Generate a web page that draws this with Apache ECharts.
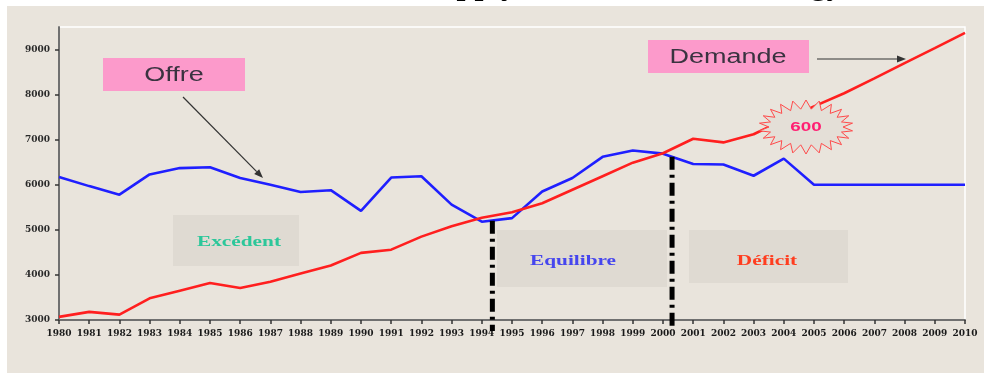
<!DOCTYPE html>
<html>
<head>
<meta charset="utf-8">
<script src="https://cdn.jsdelivr.net/npm/echarts@6/dist/echarts.min.js"></script>
<style>
  html, body { margin: 0; padding: 0; background: #ffffff; }
  #chart { width: 984px; height: 376px; }
</style>
</head>
<body>
<div id="chart"></div>
<script>
// Years on the horizontal axis
const years = [1980, 1981, 1982, 1983, 1984, 1985, 1986, 1987, 1988, 1989,
               1990, 1991, 1992, 1993, 1994, 1995, 1996, 1997, 1998, 1999,
               2000, 2001, 2002, 2003, 2004, 2005, 2006, 2007, 2008, 2009, 2010];

// Supply (Offre)
const offre = [6170, 5970, 5780, 6230, 6370, 6390, 6150, 6000, 5840, 5880,
               5420, 6160, 6190, 5560, 5180, 5260, 5850, 6150, 6620, 6760,
               6690, 6460, 6450, 6200, 6580, 6000, 6000, 6000, 6000, 6000, 6000];

// Demand (Demande)
const demande = [3070, 3180, 3120, 3480, 3650, 3820, 3710, 3850, 4030, 4210,
                 4490, 4560, 4850, 5080, 5270, 5390, 5590, 5890, 6190, 6490,
                 6700, 7020, 6940, 7120, 7440, 7740, 8030, 8360, 8700, 9030, 9370];

// Vertical axis ticks
const yTicks = [3000, 4000, 5000, 6000, 7000, 8000, 9000];

// Phase boundaries (year position, value where the divider starts)
const phaseBreaks = [1994.35, 2000.3];
const phaseTops = [5200, 6620];

const BG = '#e9e4dc';
const BOX = '#dfdad2';
const serif = '"Liberation Serif", "Times New Roman", serif';
const sans = '"Liberation Sans", Arial, sans-serif';

const chart = echarts.init(document.getElementById('chart'), null, { renderer: 'canvas' });

const option = {
  backgroundColor: '#ffffff',
  animation: false,
  grid: {
    left: 59, right: 19, top: 27, bottom: 56,
    show: true, borderColor: '#ffffff', borderWidth: 1.5,
    backgroundColor: 'transparent'
  },
  xAxis: {
    type: 'value',
    min: 1980, max: 2010, interval: 1,
    axisLine: { lineStyle: { color: '#707070', width: 2 } },
    axisTick: { show: true, length: 4, lineStyle: { color: '#333', width: 1.5 } },
    splitLine: { show: false },
    axisLabel: {
      margin: 9,
      fontFamily: '"DejaVu Serif", serif', fontWeight: 'bold', fontSize: 9,
      color: '#1a1a1a',
      formatter: v => String(v)
    }
  },
  yAxis: {
    type: 'value',
    min: 3000, max: 9500, interval: 1000,
    axisLine: { show: true, lineStyle: { color: '#707070', width: 2 } },
    axisTick: { show: true, length: 4, customValues: yTicks, lineStyle: { color: '#333', width: 1.5 } },
    splitLine: { show: false },
    axisLabel: {
      margin: 9, customValues: yTicks,
      fontFamily: '"DejaVu Serif", serif', fontWeight: 'bold', fontSize: 9,
      color: '#2a2a2a',
      formatter: v => String(v)
    }
  },
  series: [
    {
      name: 'Offre', type: 'line', showSymbol: false, z: 3,
      lineStyle: { color: '#1f1fff', width: 2.6 },
      data: years.map((y, i) => [y, offre[i]])
    },
    {
      name: 'Demande', type: 'line', showSymbol: false, z: 3,
      lineStyle: { color: '#ff1f1f', width: 2.6 },
      data: years.map((y, i) => [y, demande[i]])
    }
  ]
};
chart.setOption(option);

// Helpers for the callouts drawn on top
function arrow(x1, y1, x2, y2, color) {
  const ang = Math.atan2(y2 - y1, x2 - x1);
  const L = 9, W = 3.5;
  const bx = x2 - L * Math.cos(ang), by = y2 - L * Math.sin(ang);
  const px = -Math.sin(ang) * W, py = Math.cos(ang) * W;
  return [
    { type: 'line', z: 20, shape: { x1, y1, x2: bx, y2: by },
      style: { stroke: color, lineWidth: 1.2 } },
    { type: 'polygon', z: 20,
      shape: { points: [[x2, y2], [bx + px, by + py], [bx - px, by - py]] },
      style: { fill: color } }
  ];
}

function starPoints(cx, cy, rxo, ryo, rxi, ryi, n) {
  const pts = [];
  for (let i = 0; i < n * 2; i++) {
    const a = (Math.PI * i) / n - Math.PI / 2;
    const outer = i % 2 === 0;
    pts.push([cx + Math.cos(a) * (outer ? rxo : rxi), cy + Math.sin(a) * (outer ? ryo : ryi)]);
  }
  return pts;
}

function label(x, y, text, color, font, size, scale) {
  return {
    type: 'text', z: 21, x, y, scaleX: scale,
    style: {
      text, fill: color, font: `bold ${size}px ${font}`,
      align: 'center', verticalAlign: 'middle'
    }
  };
}

const graphics = [];

// Paper background
graphics.push({ type: 'rect', z: -10, shape: { x: 7, y: 6, width: 977, height: 367 }, style: { fill: BG } });

// Title (sits above the frame; only its descenders reach the page)
graphics.push({
  type: 'text', z: -20, x: 421, y: -30,
  style: { text: 'Supply and Demand of Energy', fill: '#000', font: `bold 32px ${serif}`,
           align: 'left', verticalAlign: 'top' }
});

// Phase boxes
graphics.push({ type: 'rect', z: -5, shape: { x: 173, y: 215, width: 126, height: 51 }, style: { fill: BOX } });
graphics.push({ type: 'rect', z: -5, shape: { x: 497, y: 230, width: 170, height: 57 }, style: { fill: BOX } });
graphics.push({ type: 'rect', z: -5, shape: { x: 689, y: 230, width: 159, height: 53 }, style: { fill: BOX } });
graphics.push(label(239, 242, 'Excédent', '#2cc79a', serif, 15, 1.42));
graphics.push(label(573, 261, 'Equilibre', '#4646ee', serif, 15, 1.42));
graphics.push(label(767, 261, 'Déficit', '#ff3d1f', serif, 15, 1.42));

// Phase dividers, positioned through the axes
phaseBreaks.forEach((yr, i) => {
  const top = chart.convertToPixel({ gridIndex: 0 }, [yr, phaseTops[i]]);
  const base = chart.convertToPixel({ gridIndex: 0 }, [yr, 3000]);
  graphics.push({
    type: 'line', z: 15,
    shape: { x1: top[0], y1: top[1], x2: base[0], y2: base[1] + 11 },
    style: { stroke: '#000', lineWidth: 5, lineDash: [13, 5, 3, 5] }
  });
});

// "Offre" callout
graphics.push({ type: 'rect', z: 19, shape: { x: 103, y: 58, width: 142, height: 33 }, style: { fill: '#fc9acb' } });
graphics.push({
  type: 'text', z: 21, x: 174, y: 75, scaleX: 1.35,
  style: { text: 'Offre', fill: '#3a3340', font: `20px ${sans}`, align: 'center', verticalAlign: 'middle' }
});
graphics.push(...arrow(183, 97, 263, 178, '#333'));

// "Demande" callout
graphics.push({ type: 'rect', z: 19, shape: { x: 648, y: 40, width: 161, height: 33 }, style: { fill: '#fc9acb' } });
graphics.push({
  type: 'text', z: 21, x: 728, y: 57, scaleX: 1.35,
  style: { text: 'Demande', fill: '#3a3340', font: `20px ${sans}`, align: 'center', verticalAlign: 'middle' }
});
graphics.push(...arrow(817, 59, 906, 59, '#333'));

// Starburst with the gap value
graphics.push({
  type: 'polygon', z: 18,
  shape: { points: starPoints(806, 127, 47, 27, 37, 18, 22) },
  style: { fill: '#e4dfd7', stroke: '#ff4a4a', lineWidth: 1 }
});
graphics.push({
  type: 'text', z: 21, x: 806, y: 127, scaleX: 1.45,
  style: { text: '600', fill: '#ff2072', font: `bold 13px ${sans}`, align: 'center', verticalAlign: 'middle' }
});

chart.setOption({ graphic: graphics });
</script>
</body>
</html>
